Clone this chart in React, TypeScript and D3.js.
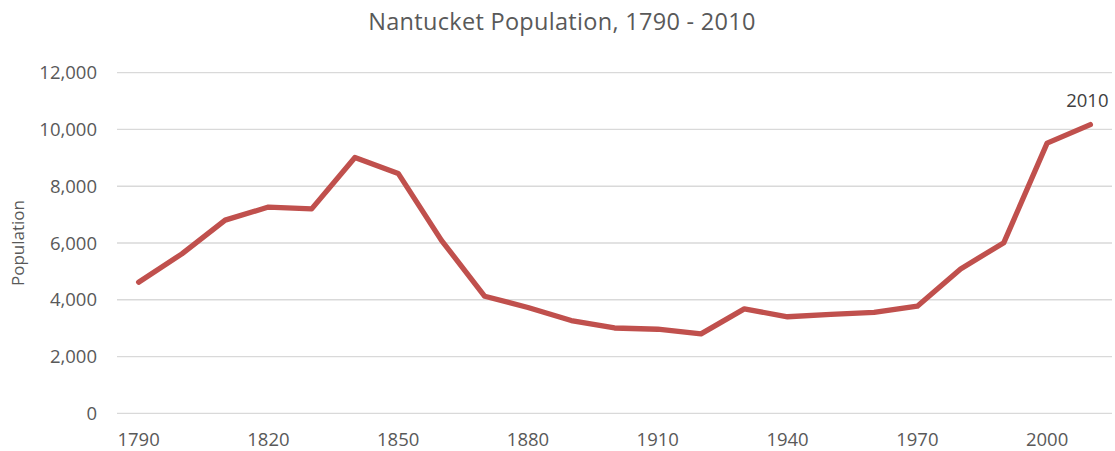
import React from "react";
import * as d3 from "d3";

const years: number[] = [1790,1800,1810,1820,1830,1840,1850,1860,1870,1880,1890,1900,1910,1920,1930,1940,1950,1960,1970,1980,1990,2000,2010];
const population: number[] = [4620,5617,6807,7266,7202,9012,8452,6094,4123,3727,3268,3006,2962,2797,3678,3401,3484,3559,3774,5087,6012,9520,10172];
const yTicks: number[] = [0,2000,4000,6000,8000,10000,12000];
const xTickLabels: number[] = [1790,1820,1850,1880,1910,1940,1970,2000];

const W = 1115, H = 451;
const FONT = "'Open Sans', sans-serif";

export default function App() {
  const left = 117, right = 1112, top = 72.7, bottom = 413.3;
  const x = d3.scaleBand<number>().domain(years).range([left, right]);
  const y = d3.scaleLinear().domain([0, 12000]).range([bottom, top]);
  const cx = (yr: number) => (x(yr) as number) + x.bandwidth() / 2;
  const line = d3.line<number>().x((_, i) => cx(years[i])).y((d) => y(d));
  const fmt = d3.format(",");
  const lastI = years.length - 1;
  return (
    <svg width={W} height={H} style={{ position: "absolute", left: 0, top: 0, background: "#fff" }}>
      <text x={562} y={30} textAnchor="middle" fontFamily={FONT} fontSize={23.5} letterSpacing={0.3} fill="#595959">
        Nantucket Population, 1790 - 2010
      </text>
      {yTicks.map((t) => (
        <g key={t}>
          <line x1={left} x2={right} y1={y(t)} y2={y(t)} stroke="#d9d9d9" strokeWidth={1.3} />
          <text x={97} y={y(t)} dy="0.36em" textAnchor="end" fontFamily={FONT} fontSize={18.5} fill="#595959">
            {fmt(t)}
          </text>
        </g>
      ))}
      {xTickLabels.map((t) => (
        <text key={t} x={cx(t)} y={446} textAnchor="middle" fontFamily={FONT} fontSize={18.5} fill="#595959">
          {t}
        </text>
      ))}
      <text transform={`translate(24,243) rotate(-90)`} textAnchor="middle" fontFamily={FONT} fontSize={17} fill="#595959">
        Population
      </text>
      <path d={line(population) || ""} fill="none" stroke="#C0504D" strokeWidth={5.3} strokeLinejoin="round" strokeLinecap="round" />
      <text x={cx(years[lastI]) - 3} y={y(population[lastI]) - 18} textAnchor="middle" fontFamily={FONT} fontSize={18.5} fill="#404040">
        {years[lastI]}
      </text>
    </svg>
  );
}
